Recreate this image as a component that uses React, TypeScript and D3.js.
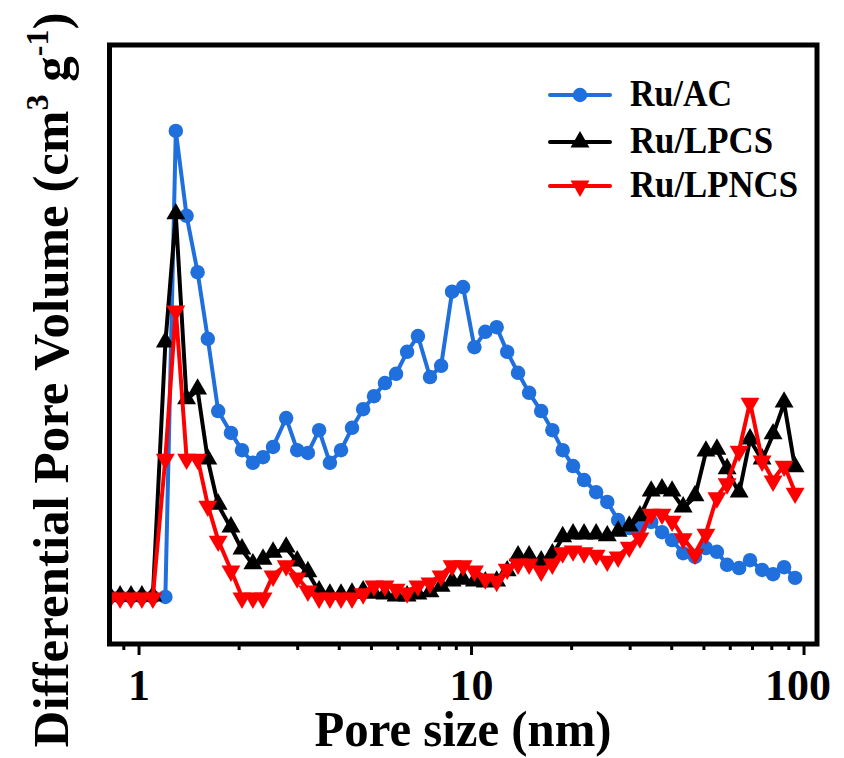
import React from "react";
import * as d3 from "d3";

const poreSize = [0.818, 0.877, 0.946, 1.02, 1.10, 1.20, 1.29, 1.39, 1.50, 1.61, 1.73, 1.89, 2.04, 2.20, 2.36, 2.53, 2.77, 2.99, 3.22, 3.48, 3.75, 4.05, 4.37, 4.72, 5.09, 5.49, 5.93, 6.40, 6.90, 7.50, 8.10, 8.74, 9.43, 10.2, 11.0, 11.9, 12.8, 13.8, 14.9, 16.2, 17.5, 18.8, 20.2, 21.8, 23.7, 25.6, 27.6, 29.8, 32.1, 34.7, 37.4, 40.1, 43.3, 47.0, 50.7, 54.7, 58.7, 63.8, 68.8, 74.8, 80.7, 87.1, 94.0];

const ruAC = [0, 0, 0, 0, 0, 0,
  1.000, 0.818, 0.697, 0.554,
  0.399, 0.352, 0.315, 0.288, 0.300, 0.322, 0.384, 0.315, 0.309, 0.358,
  0.288, 0.315, 0.363, 0.403, 0.431, 0.459, 0.479, 0.526, 0.560, 0.472,
  0.496, 0.655, 0.665, 0.536, 0.569, 0.579, 0.526, 0.481, 0.438, 0.399,
  0.358, 0.315, 0.281, 0.251, 0.225, 0.204, 0.165, 0.148, 0.150, 0.161,
  0.139, 0.122, 0.094, 0.086, 0.105, 0.097, 0.069, 0.062, 0.079, 0.058,
  0.049, 0.064, 0.041];

const ruLPCS = [0, 0, 0, 0, 0,
  0.545, 0.820, 0.423, 0.444, 0.294,
  0.197, 0.148, 0.101, 0.069, 0.079, 0.094, 0.105, 0.075, 0.052, 0.011,
  0.004, 0.004, 0.006, 0.011, 0.006, 0.004, 0.000, 0.000, 0.004, 0.009,
  0.021, 0.032, 0.036, 0.032, 0.030, 0.032, 0.054, 0.086, 0.086, 0.075,
  0.090, 0.127, 0.133, 0.133, 0.133, 0.129, 0.139, 0.150, 0.172, 0.225,
  0.230, 0.225, 0.191, 0.215, 0.311, 0.315, 0.273, 0.223, 0.337, 0.294,
  0.348, 0.416, 0.277];

const ruLPNCS = [0, 0, 0, 0, 0,
  0.298, 0.616, 0.298, 0.298, 0.197,
  0.122, 0.058, 0, 0, 0, 0.047, 0.069, 0.043, 0.015, 0,
  0, 0, 0, 0.009, 0.026, 0.026, 0.019, 0.011, 0.026, 0.032,
  0.047, 0.069, 0.069, 0.058, 0.041, 0.036, 0.062, 0.073, 0.073, 0.058,
  0.073, 0.097, 0.101, 0.097, 0.092, 0.079, 0.088, 0.109, 0.129, 0.180,
  0.180, 0.165, 0.127, 0.094, 0.137, 0.215, 0.245, 0.315, 0.418, 0.294,
  0.251, 0.283, 0.225];

const seriesNames = ["Ru/AC", "Ru/LPCS", "Ru/LPNCS"];
const seriesColors = ["#1f6fdc", "#000000", "#ff0000"];
const xTickValues = [1, 10, 100];
const xTickLabels = ["1", "10", "100"];
const xTitle = "Pore size (nm)";

const FONT = "'Liberation Serif', 'Times New Roman', serif";

export default function App() {
  const W = 844, H = 758;
  const left = 109.5, right = 817, top = 45, bottom = 644;
  const x = d3.scaleLog().domain([0.815, 109.4]).range([left, right]);
  const y = d3.scaleLinear().domain([-0.1009, 1.1845]).range([bottom, top]);

  const seriesData = [ruAC, ruLPCS, ruLPNCS];
  const line = d3.line<[number, number]>().x((d) => x(d[0])).y((d) => y(d[1]));

  const circle = d3.symbol().type(d3.symbolCircle).size(165)() as string;
  const tri = d3.symbol().type(d3.symbolTriangle).size(155)() as string;
  const markerPath = [circle, tri, tri];
  const markerRot = [0, 0, 180];

  const minorTicks: number[] = [];
  [0.1, 1, 10].forEach((dec) => {
    for (let k = 2; k <= 9; k++) {
      const v = dec * k;
      if (v >= 0.815 && v <= 109.4 && v !== 1 && v !== 10 && v !== 100) minorTicks.push(v);
    }
  });

  const legendY = [95, 142, 186];
  const legendTextLen = [102, 143, 168];

  return (
    <svg width={W} height={H} style={{ display: "block", position: "absolute", left: 0, top: 0 }}>
      <rect x={0} y={0} width={W} height={H} fill="#fff" />
      <defs>
        <clipPath id="plotclip">
          <rect x={left} y={top} width={right - left} height={bottom - top} />
        </clipPath>
      </defs>
      <g clipPath="url(#plotclip)">
        {seriesData.map((vals, si) => {
          const pts = poreSize.map((p, i) => [p, vals[i]] as [number, number]);
          return (
            <g key={si}>
              <path d={line(pts) as string} fill="none" stroke={seriesColors[si]} strokeWidth={4} strokeLinejoin="round" />
              {pts.map((d, i) => (
                <path key={i} d={markerPath[si]} fill={seriesColors[si]}
                  transform={`translate(${x(d[0])},${y(d[1]) + (si === 1 ? -1 : si === 2 ? 1 : 0)}) rotate(${markerRot[si]})`} />
              ))}
            </g>
          );
        })}
      </g>
      {/* frame */}
      <rect x={left} y={top} width={right - left} height={bottom - top} fill="none" stroke="#000" strokeWidth={5} />
      {/* ticks */}
      {xTickValues.map((t) => (
        <line key={"M" + t} x1={x(t)} x2={x(t)} y1={bottom} y2={bottom + 11} stroke="#000" strokeWidth={3} />
      ))}
      {minorTicks.map((t) => (
        <line key={"m" + t} x1={x(t)} x2={x(t)} y1={bottom} y2={bottom + 6} stroke="#000" strokeWidth={3} />
      ))}
      {xTickValues.map((t, i) => (
        <text key={"L" + t} x={x(t) - (t === 100 ? 6 : 0)} y={700} textAnchor="middle" fontFamily={FONT} fontWeight="bold" fontSize={44}
          textLength={22 * xTickLabels[i].length} lengthAdjust="spacingAndGlyphs">{xTickLabels[i]}</text>
      ))}
      <text x={463} y={746} textAnchor="middle" fontFamily={FONT} fontWeight="bold" fontSize={51}
        textLength={297} lengthAdjust="spacingAndGlyphs">{xTitle}</text>
      {/* y title */}
      <text transform="translate(68,380) rotate(-90)" textAnchor="middle" fontFamily={FONT} fontWeight="bold" fontSize={51}>
        Differential Pore Volume (cm<tspan fontSize={32} dy={-20}>3</tspan><tspan dy={20}> g</tspan><tspan fontSize={32} dy={-20}>-1</tspan><tspan dy={20}>)</tspan>
      </text>
      {/* legend */}
      {seriesNames.map((n, i) => (
        <g key={n}>
          <line x1={550} x2={610} y1={legendY[i]} y2={legendY[i]} stroke={seriesColors[i]} strokeWidth={4} strokeLinecap="round" />
          <path d={markerPath[i]} fill={seriesColors[i]} transform={`translate(580,${legendY[i]}) rotate(${markerRot[i]})`} />
          <text x={630} y={legendY[i] + 11} fontFamily={FONT} fontWeight="bold" fontSize={38}
            textLength={legendTextLen[i]} lengthAdjust="spacingAndGlyphs">{n}</text>
        </g>
      ))}
    </svg>
  );
}
